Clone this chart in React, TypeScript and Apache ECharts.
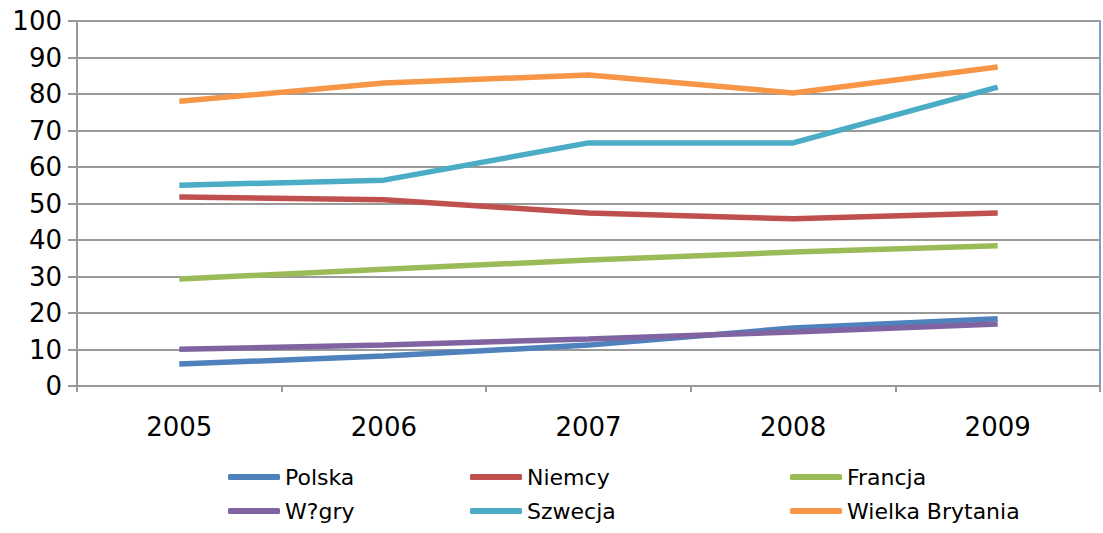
import React, { useEffect, useRef } from "react";
import * as echarts from "echarts";

const years = ["2005", "2006", "2007", "2008", "2009"];
const polska = [6.0, 8.2, 11.2, 15.9, 18.4];
const niemcy = [51.8, 51.0, 47.4, 45.8, 47.4];
const francja = [29.3, 32.0, 34.5, 36.7, 38.4];
const wegry = [10.1, 11.2, 12.9, 14.8, 17.0];
const szwecja = [55.0, 56.4, 66.6, 66.6, 81.9];
const wielkaBrytania = [78.0, 83.0, 85.2, 80.3, 87.4];

const seriesDefs = [
  { name: "Polska", data: polska, color: "#4F81BD" },
  { name: "Niemcy", data: niemcy, color: "#C0504D" },
  { name: "Francja", data: francja, color: "#9BBB59" },
  { name: "W?gry", data: wegry, color: "#8064A2" },
  { name: "Szwecja", data: szwecja, color: "#4BACC6" },
  { name: "Wielka Brytania", data: wielkaBrytania, color: "#F79646" },
];

const FONT = "DejaVu Sans";

export default function App() {
  const ref = useRef<HTMLDivElement>(null);
  useEffect(() => {
    document.body.style.margin = "0";
    const chart = echarts.init(ref.current!, null, { renderer: "svg" });
    const legendBase = {
      orient: "vertical",
      icon: "roundRect",
      itemWidth: 52,
      itemHeight: 6,
      itemGap: 12,
      textStyle: { fontFamily: FONT, fontSize: 22, color: "#000" },
      padding: 0,
    };
    chart.setOption({
      animation: false,
      backgroundColor: "#fff",
      grid: {
        left: 77,
        right: 3,
        top: 21,
        bottom: 147,
        show: true,
        borderColor: "#7BA0CD",
        borderWidth: 2,
      },
      legend: [
        { ...legendBase, left: 228, top: 466, data: ["Polska", "W?gry"] },
        { ...legendBase, left: 470, top: 466, data: ["Niemcy", "Szwecja"] },
        { ...legendBase, left: 790, top: 466, data: ["Francja", "Wielka Brytania"] },
      ],
      xAxis: {
        type: "category",
        data: years,
        boundaryGap: true,
        axisLine: { lineStyle: { color: "#999", width: 2 } },
        axisTick: { show: true, length: 6, lineStyle: { color: "#999", width: 2 } },
        axisLabel: { fontFamily: FONT, fontSize: 26, color: "#000", margin: 28 },
        splitLine: { show: false },
      },
      yAxis: {
        type: "value",
        min: 0,
        max: 100,
        interval: 10,
        axisLine: { show: true, lineStyle: { color: "#999", width: 2 } },
        axisTick: { show: true, length: 9, lineStyle: { color: "#999", width: 2 } },
        axisLabel: { fontFamily: FONT, fontSize: 26, color: "#000", margin: 15 },
        splitLine: { show: true, lineStyle: { color: "#9a9a9a", width: 2 } },
      },
      series: seriesDefs.map((s) => ({
        name: s.name,
        type: "line",
        data: s.data,
        symbol: "none",
        color: s.color,
        lineStyle: { width: 5.5, color: s.color },
      })),
    });
    return () => chart.dispose();
  }, []);
  return <div ref={ref} style={{ width: 1103, height: 533 }} />;
}
